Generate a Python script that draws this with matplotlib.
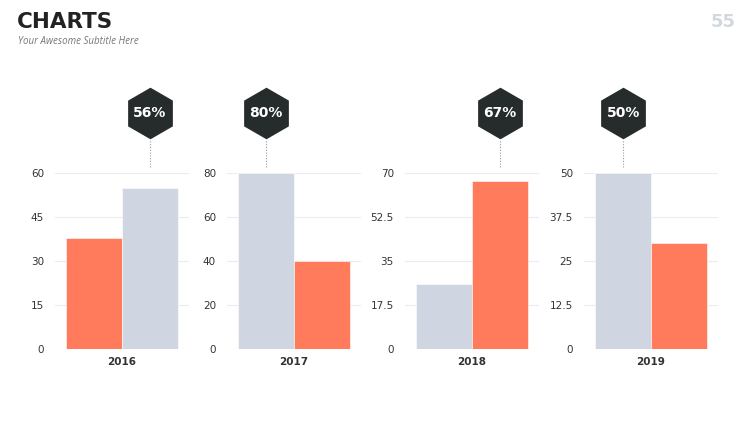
import numpy as np
import matplotlib
matplotlib.use('Agg')
import matplotlib.pyplot as plt
from matplotlib.transforms import blended_transform_factory

# data
years = ['2016', '2017', '2018', '2019']
first_vals = [38, 80, 26, 50]      # left bar
second_vals = [55, 40, 67, 30]     # right bar
first_cols = ['#ff7b5c', '#cfd6e1', '#cfd6e1', '#cfd6e1']
second_cols = ['#cfd6e1', '#ff7b5c', '#ff7b5c', '#ff7b5c']
y_max = [60, 80, 70, 50]
pct_labels = ['56%', '80%', '67%', '50%']
pct_bar = [1, 0, 1, 0]   # which bar carries the hexagon

W, H = 750, 421
fig = plt.figure(figsize=(7.5, 4.21), dpi=100)
fig.patch.set_facecolor('white')

fig.text(17/W, 1 - 22/H, 'CHARTS', fontsize=15.5, fontweight='heavy', color='#222222',
         family='DejaVu Sans', va='center', ha='left')
fig.text(18/W, 1 - 42/H, 'Your Awesome Subtitle Here', fontsize=7, style='italic',
         color='#777777', family='Open Sans', va='center', ha='left')
fig.text(736/W, 1 - 22/H, '55', fontsize=13, fontweight='bold', color='#d3d8df',
         va='center', ha='right')

lefts = [55, 227, 405, 584]
for i in range(4):
    ax = fig.add_axes([lefts[i]/W, (H - 349)/H, 134/W, 176/H])
    ax.bar([0, 1], [first_vals[i], second_vals[i]], width=1.0,
           color=[first_cols[i], second_cols[i]], edgecolor='white', linewidth=0.4,
           zorder=2)
    ax.set_xlim(-0.7, 1.7)
    ax.set_ylim(0, y_max[i])
    ticks = np.linspace(0, y_max[i], 5)
    ax.set_yticks(ticks)
    ax.set_yticklabels(['%g' % t for t in ticks])
    ax.set_xticks([0.5])
    ax.set_xticklabels([years[i]], fontweight='bold')
    ax.tick_params(length=0, labelsize=7.5, colors='#333333')
    ax.tick_params(axis='y', pad=8)
    ax.tick_params(axis='x', pad=6)
    ax.grid(axis='y', color='#e9ecf0', linewidth=0.8, zorder=0)
    for s in ax.spines.values():
        s.set_visible(False)

    tr = blended_transform_factory(ax.transData, ax.transAxes)
    xb = pct_bar[i]
    ax.plot([xb, xb], [1.034, 1.187], transform=tr, clip_on=False,
            color='#999999', linestyle=(0, (1, 1.5)), linewidth=0.8)
    ax.plot([xb], [1.341], transform=tr, clip_on=False, marker='h',
            markersize=36, color='#262b2b', linestyle='none')
    ax.text(xb, 1.341, pct_labels[i], transform=tr, ha='center', va='center',
            color='white', fontsize=10, fontweight='bold')

fig.savefig('out.png', dpi=100, facecolor='white')
